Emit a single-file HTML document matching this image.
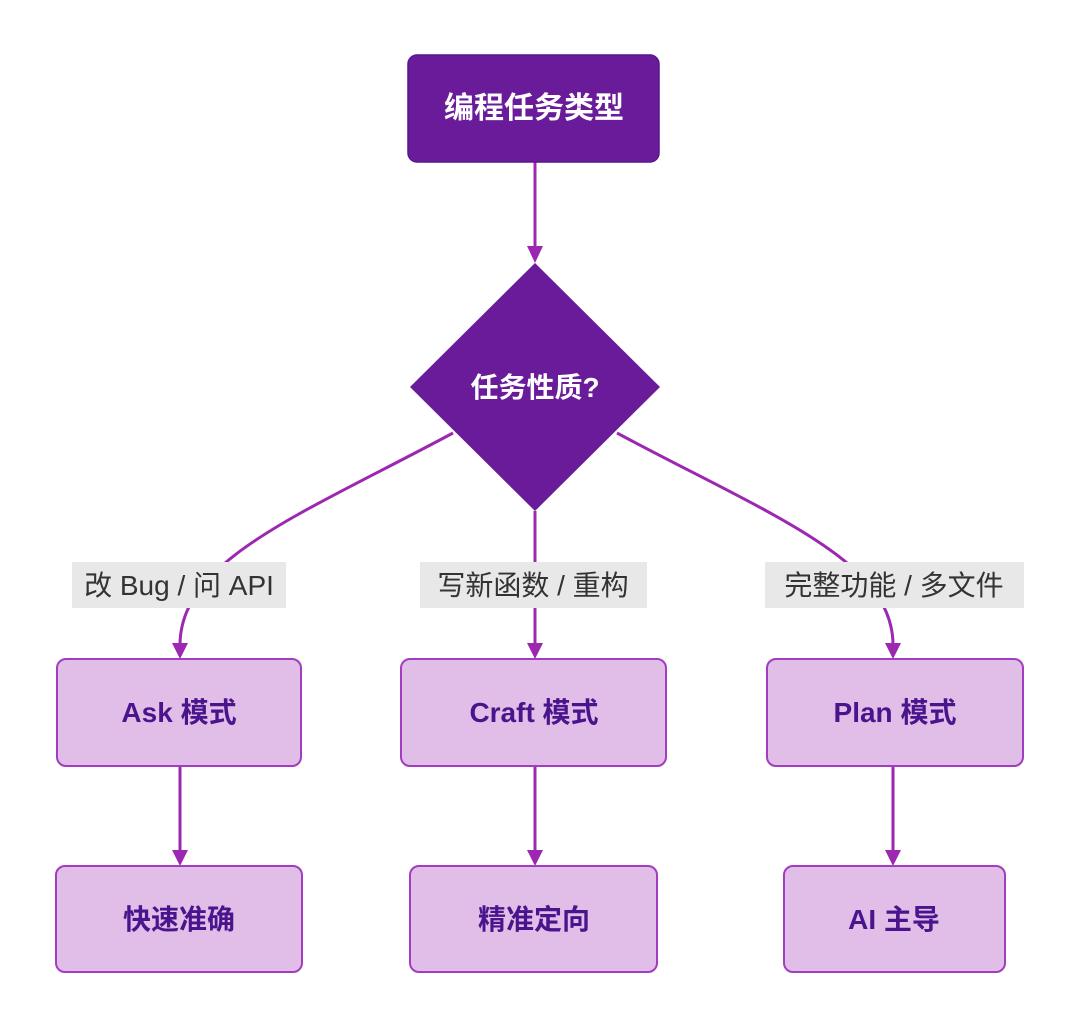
<!DOCTYPE html>
<html><head><meta charset="utf-8"><style>
html,body{margin:0;padding:0;background:#fff;}
svg text{font-family:"Liberation Sans","Noto Sans CJK SC",sans-serif;}
</style></head><body>
<svg width="1080" height="1029" viewBox="0 0 1080 1029" xmlns="http://www.w3.org/2000/svg">
<defs><marker id="a" markerWidth="10" markerHeight="10" refX="5" refY="8" orient="auto" markerUnits="userSpaceOnUse" viewBox="0 0 10 10"><path d="M0,0 L10,0 L5,10 z" fill="#9c27b0" transform="rotate(0)"/></marker></defs>
<g stroke="#9c27b0" stroke-width="3" fill="none">
<line x1="535" y1="162" x2="535" y2="248"/>
<path d="M453,433 C300,515 180,560 180,645"/>
<line x1="535" y1="511" x2="535" y2="645"/>
<path d="M617,433 C770,515 893,560 893,645"/>
<line x1="180" y1="766" x2="180" y2="852"/>
<line x1="535" y1="766" x2="535" y2="852"/>
<line x1="893" y1="766" x2="893" y2="852"/>
</g>
<g fill="#9c27b0">
<path d="M527,246 L543,246 L535,263 z"/>
<path d="M172,643 L188,643 L180,659 z"/>
<path d="M527,643 L543,643 L535,659 z"/>
<path d="M885,643 L901,643 L893,659 z"/>
<path d="M172,850 L188,850 L180,866 z"/>
<path d="M527,850 L543,850 L535,866 z"/>
<path d="M885,850 L901,850 L893,866 z"/>
</g>
<rect x="408" y="55" width="251" height="107" rx="9" fill="#6a1b9a" stroke="#5a1588" stroke-width="1.5"/>
<text x="534" y="118" text-anchor="middle" font-size="30" font-weight="bold" fill="#fff">编程任务类型</text>
<polygon points="535,263 660,387 535,511 410,387" fill="#6a1b9a"/>
<text x="535" y="397" text-anchor="middle" font-size="28" font-weight="bold" fill="#fff">任务性质?</text>
<g fill="#e8e8e8"><rect x="72" y="562" width="214" height="46"/><rect x="420" y="562" width="227" height="46"/><rect x="765" y="562" width="259" height="46"/></g>
<g font-size="28" fill="#333" text-anchor="middle">
<text x="179" y="595">改 Bug / 问 API</text>
<text x="533" y="595">写新函数 / 重构</text>
<text x="894" y="595">完整功能 / 多文件</text>
</g>
<g fill="#e1bee7" stroke="#a33cc0" stroke-width="2">
<rect x="57" y="659" width="244" height="107" rx="9"/>
<rect x="401" y="659" width="265" height="107" rx="9"/>
<rect x="767" y="659" width="256" height="107" rx="9"/>
<rect x="56" y="866" width="246" height="106" rx="9"/>
<rect x="410" y="866" width="247" height="106" rx="9"/>
<rect x="784" y="866" width="221" height="106" rx="9"/>
</g>
<g font-size="28" font-weight="bold" fill="#4a148c" text-anchor="middle">
<text x="179" y="722">Ask 模式</text>
<text x="534" y="722">Craft 模式</text>
<text x="895" y="722">Plan 模式</text>
<text x="179" y="929">快速准确</text>
<text x="534" y="929">精准定向</text>
<text x="894" y="929">AI 主导</text>
</g>
</svg>
</body></html>
